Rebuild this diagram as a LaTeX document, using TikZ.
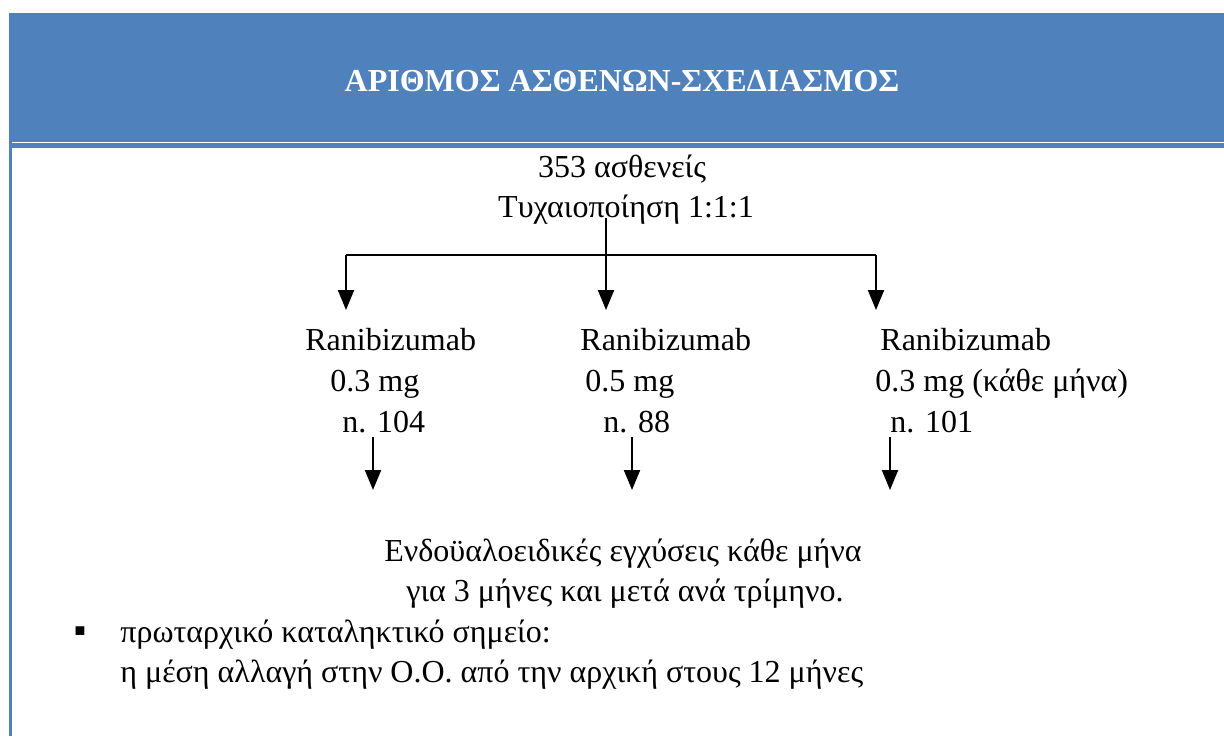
\documentclass[tikz,border=0pt]{standalone}
\usepackage{fontspec}
\setmainfont{Liberation Serif}
\usetikzlibrary{arrows.meta,positioning}
\definecolor{HeadBlue}{HTML}{4F81BD}

\begin{document}
\begin{tikzpicture}[x=0.5pt,y=-0.5pt,
    txt/.style={inner sep=0pt,font=\fontsize{16}{19}\selectfont},
    head/.style={inner sep=0pt,text=white,font=\bfseries\fontsize{16}{19}\selectfont},
    arr/.style={-{Triangle[length=10pt,width=8pt]},line width=1pt}]
    \useasboundingbox (0,0) rectangle (1224,736);
    \fill[HeadBlue] (9,13) rectangle (1224,142);
    \fill[HeadBlue] (12,143) rectangle (1224,148);
    \fill[HeadBlue] (9,142) rectangle (12,736);
    \node[head,anchor=base] (title) at (622,91) {ΑΡΙΘΜΟΣ ΑΣΘΕΝΩΝ-ΣΧΕΔΙΑΣΜΟΣ};
    \node[txt,anchor=base] (total) at (622,177) {353 ασθενείς};
    \node[txt,anchor=base] (rand) at (626,217) {Τυχαιοποίηση 1:1:1};
    % three arms
    \node[txt,anchor=base west] (drugA) at (305,350) {Ranibizumab};
    \node[txt,anchor=base west] (doseA) at (330,391) {0.3 mg};
    \node[txt,anchor=base west] (nA) at (342,432) {n. 104};
    \node[txt,anchor=base west] (drugB) at (580,350) {Ranibizumab};
    \node[txt,anchor=base west] (doseB) at (585,391) {0.5 mg};
    \node[txt,anchor=base west] (nB) at (603,432) {n. 88};
    \node[txt,anchor=base west] (drugC) at (880,350) {Ranibizumab};
    \node[txt,anchor=base west] (doseC) at (875,391) {0.3 mg (κάθε μήνα)};
    \node[txt,anchor=base west] (nC) at (890,432) {n. 101};
    \node[txt,anchor=base] (inj) at (623,561) {Ενδοϋαλοειδικές εγχύσεις κάθε μήνα};
    \node[txt,anchor=base] (inj2) at (625,601) {για 3 μήνες και μετά ανά τρίμηνο.};
    \node[inner sep=0pt,anchor=base,font=\fontsize{9}{10}\selectfont] (bul) at (80,636) {■};
    \node[txt,anchor=base west] (end1) at (120,642) {πρωταρχικό καταληκτικό σημείο:};
    \node[txt,anchor=base west] (end2) at (120,682) {η μέση αλλαγή στην Ο.Ο. από την αρχική στους 12 μήνες};
    % connectors
    \coordinate (fork) at (606,218);
    \coordinate (barL) at (346,255); \coordinate (barR) at (876,255);
    \coordinate (tipA) at (346,310); \coordinate (tipB) at (606,310); \coordinate (tipC) at (876,310);
    \coordinate (srcA) at (373,437); \coordinate (srcB) at (632,437); \coordinate (srcC) at (890,437);
    \coordinate (endA) at (373,490); \coordinate (endB) at (632,490); \coordinate (endC) at (890,490);
    \draw[line width=1pt] (barL) -- (barR);
    \draw[arr] (fork) -- (tipB);
    \draw[arr] (barL) -- (tipA); \draw[arr] (barR) -- (tipC);
    \draw[arr] (srcA) -- (endA); \draw[arr] (srcB) -- (endB); \draw[arr] (srcC) -- (endC);
\end{tikzpicture}
\end{document}
